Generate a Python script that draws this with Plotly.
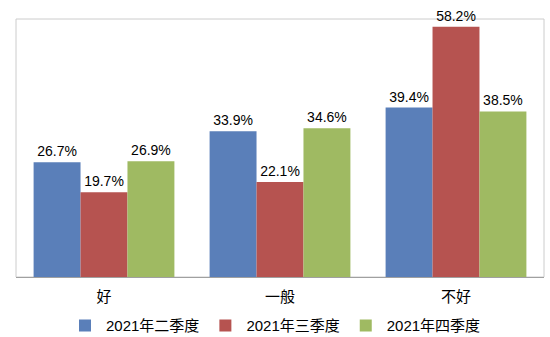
import plotly.graph_objects as go

categories = ["好", "一般", "不好"]
series_names = ["2021年二季度", "2021年三季度", "2021年四季度"]
q2 = [26.7, 33.9, 39.4]
q3 = [19.7, 22.1, 58.2]
q4 = [26.9, 34.6, 38.5]
colors = ["#5A7FB9", "#B65350", "#9FBA62"]

FONT = "Liberation Sans, Arial, Noto Sans CJK SC, sans-serif"

fig = go.Figure()
for name, vals, c in zip(series_names, [q2, q3, q4], colors):
    fig.add_trace(go.Bar(
        x=categories, y=vals, name=name, marker=dict(color=c, line=dict(width=0)),
        text=[f"{v:.1f}%" for v in vals], textposition="outside",
        textfont=dict(size=14, color="#000000", family=FONT), cliponaxis=False,
        constraintext="none",
    ))

fig.update_layout(
    width=550, height=337,
    margin=dict(l=16, r=6, t=19, b=60, autoexpand=False),
    paper_bgcolor="white", plot_bgcolor="white",
    barmode="group", bargap=0.2, bargroupgap=0,
    font=dict(family=FONT, size=14, color="#000000"),
    showlegend=True,
    legend=dict(orientation="h", x=0.5, xanchor="center", xref="container",
                y=-0.125, yanchor="top", yref="paper",
                font=dict(size=15), itemwidth=32, traceorder="normal"),
)
fig.update_xaxes(showline=True, linecolor="#a0a0a0", linewidth=1, mirror=False,
                 ticks="", tickfont=dict(size=15), ticklabelstandoff=6)
fig.update_yaxes(range=[0, 60], showgrid=False, showticklabels=False, zeroline=False,
                 showline=False)
# frame around plot area
fig.add_shape(type="rect", xref="paper", yref="paper", x0=0, x1=1, y0=0, y1=1,
              line=dict(color="#cccccc", width=1), layer="below")

fig.write_html("out.html")
